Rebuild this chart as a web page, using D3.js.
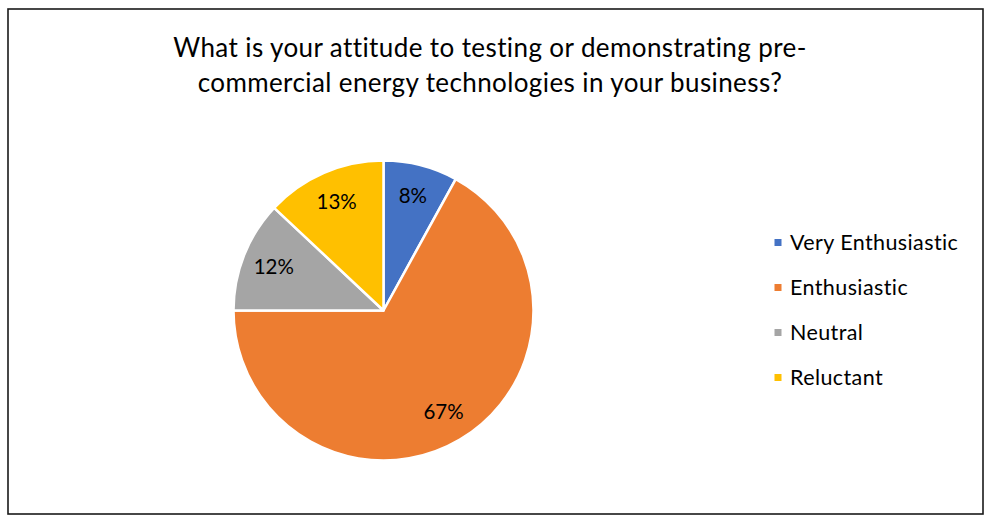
<!DOCTYPE html>
<html>
<head>
<meta charset="utf-8">
<script src="https://cdn.jsdelivr.net/npm/d3@7"></script>
<style>
  html, body { margin: 0; padding: 0; background: #fff; }
  svg text { font-family: Lato, "Open Sans", sans-serif; fill: #000; }
</style>
</head>
<body>
<svg id="chart" width="985" height="518"></svg>
<script>
// Survey responses
const categories = ["Very Enthusiastic", "Enthusiastic", "Neutral", "Reluctant"];
const values = [8, 67, 12, 13];
const colors = ["#4472C4", "#ED7D31", "#A5A5A5", "#FFC000"];
const titleLines = [
  "What is your attitude to testing or demonstrating pre-",
  "commercial energy technologies in your business?"
];

const svg = d3.select("#chart");

// Outer frame
svg.append("rect")
  .attr("x", 8).attr("y", 9)
  .attr("width", 975).attr("height", 505)
  .attr("fill", "#fff")
  .attr("stroke", "#1a1a1a")
  .attr("stroke-width", 1.6);

// Title
const title = svg.append("text")
  .attr("text-anchor", "middle")
  .style("font-size", "26px")
  .style("letter-spacing", "0.4px");
titleLines.forEach((line, i) => {
  title.append("tspan")
    .attr("x", 490)
    .attr("y", 57 + i * 35)
    .text(line);
});

// Pie
const cx = 383.5, cy = 310.5, r = 150;
const pie = d3.pie().sort(null).value(d => d.value);
const arcs = pie(categories.map((c, i) => ({ name: c, value: values[i], color: colors[i] })));
const arc = d3.arc().innerRadius(0).outerRadius(r);
const labelArc = d3.arc().innerRadius(118).outerRadius(118);

const g = svg.append("g").attr("transform", `translate(${cx},${cy})`);
g.selectAll("path.slice")
  .data(arcs)
  .join("path")
  .attr("class", "slice")
  .attr("d", arc)
  .attr("fill", d => d.data.color)
  .attr("stroke", "#fff")
  .attr("stroke-width", 2.5)
  .attr("stroke-linejoin", "round");

g.selectAll("text.lbl")
  .data(arcs)
  .join("text")
  .attr("class", "lbl")
  .attr("transform", d => `translate(${labelArc.centroid(d)})`)
  .attr("text-anchor", "middle")
  .attr("dy", "0.35em")
  .style("font-size", "20.5px")
  .text(d => d.data.value + "%");

// Legend
const legend = svg.append("g").attr("transform", "translate(774,0)");
const item = legend.selectAll("g")
  .data(categories)
  .join("g")
  .attr("transform", (d, i) => `translate(0,${242.5 + i * 45})`);
item.append("rect")
  .attr("x", 0.5).attr("y", -3.5)
  .attr("width", 7).attr("height", 7)
  .attr("fill", (d, i) => colors[i]);
item.append("text")
  .attr("x", 16)
  .attr("dy", "0.35em")
  .style("font-size", "21.5px")
  .style("letter-spacing", "0.4px")
  .text(d => d);
</script>
</body>
</html>
